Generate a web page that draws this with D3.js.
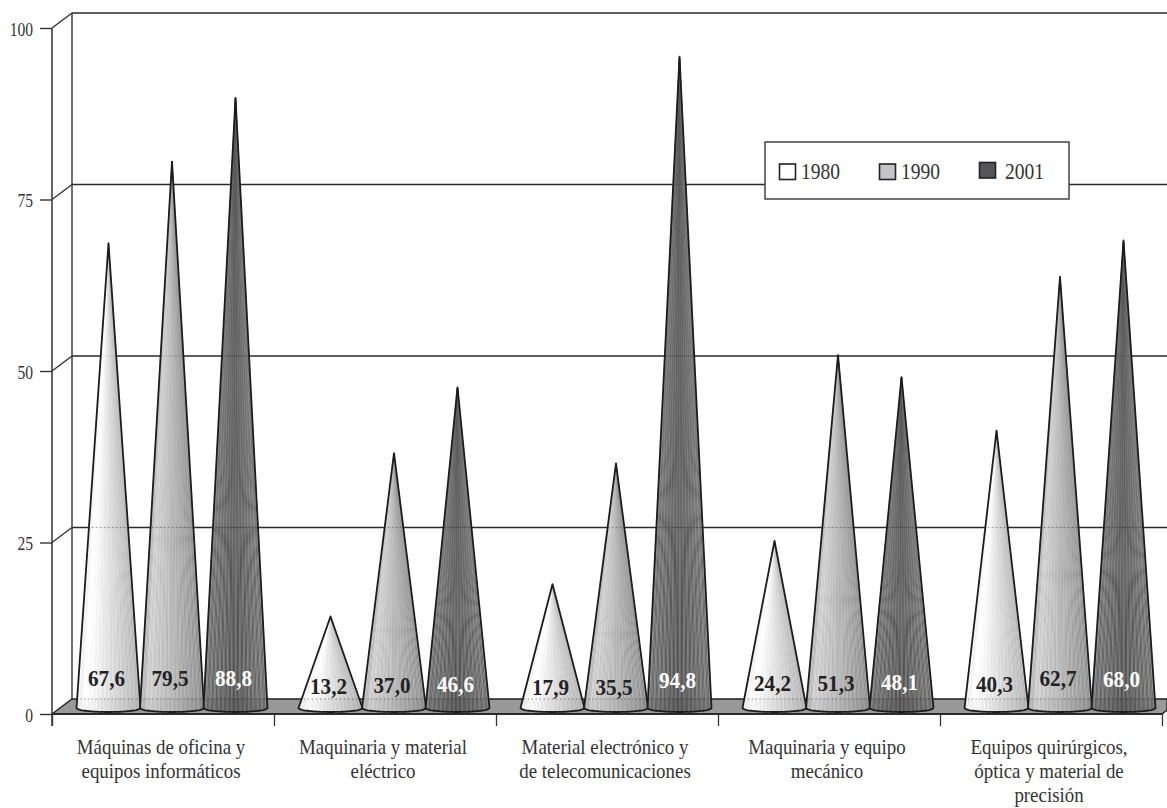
<!DOCTYPE html>
<html>
<head>
<meta charset="utf-8">
<script src="https://cdn.jsdelivr.net/npm/d3@7"></script>
<style>
  html, body { margin: 0; padding: 0; background: #fff; }
  svg { display: block; }
  text { font-family: "Liberation Serif", serif; }
</style>
</head>
<body>
<div id="chart-container"></div>
<script>
const categories = [
    "Máquinas de oficina y|equipos informáticos",
    "Maquinaria y material|eléctrico",
    "Material electrónico y|de telecomunicaciones",
    "Maquinaria y equipo|mecánico",
    "Equipos quirúrgicos,|óptica y material de|precisión"
];
const years = ["1980", "1990", "2001"];
const values1980 = [67.6, 13.2, 17.9, 24.2, 40.3];
const values1990 = [79.5, 37.0, 35.5, 51.3, 62.7];
const values2001 = [88.8, 46.6, 94.8, 48.1, 68.0];
const yTicks = [0, 25, 50, 75, 100];

// how far each printed value sits above the cone base, it varies in the original
const labelLift = [
    [22, 22, 22],
    [14, 15, 16],
    [13, 13, 20],
    [17, 17, 18],
    [16, 22, 21]
];

const svgWidth = 1167;
const svgHeight = 808;
const depthX = 20;
const depthY = 15;
const coneHalf = 32;

const svg = d3.select("#chart-container")
    .append("svg")
    .attr("width", svgWidth)
    .attr("height", svgHeight);

const scaleX = d3.scaleBand().domain(categories).range([52, 1162]);
const scaleYear = d3.scalePoint().domain(years).range([-63.5, 63.5]);
const scaleY = d3.scaleLinear().domain([0, 100]).range([714, 28]);
const edgeX = d3.scaleLinear().domain([0, categories.length]).range([52, 1162]);

const ramps = {
    "1980": d3.scaleLinear().domain([0, 0.14, 0.5, 1]).range(["#e8e8e8", "#ffffff", "#dedede", "#b4b4b4"]),
    "1990": d3.scaleLinear().domain([0, 0.12, 0.5, 1]).range(["#a8a8a8", "#cbcbcb", "#b2b2b2", "#8e8e8e"]),
    "2001": d3.scaleLinear().domain([0, 0.5, 1]).range(["#6e6e6e", "#505050", "#707070"])
};
const stripeShift = { "1980": 10, "1990": 14, "2001": 26 };

// the original type is narrower and taller than Liberation Serif
function narrowText(sel, x, y, sx) {
    return sel.attr("transform", `translate(${x},${y}) scale(${sx},1)`);
}

const frame = svg.append("g");

// back wall and grid
yTicks.forEach(function(t) {
    if (t === 0) return;
    frame.append("line")
        .attr("x1", 52).attr("x2", 52 + depthX)
        .attr("y1", scaleY(t)).attr("y2", scaleY(t) - depthY)
        .attr("stroke", "#333").attr("stroke-width", 1.4);
    frame.append("line")
        .attr("x1", 52 + depthX).attr("x2", svgWidth)
        .attr("y1", scaleY(t) - depthY).attr("y2", scaleY(t) - depthY)
        .attr("stroke", "#2a2a2a").attr("stroke-width", t === 100 ? 1.7 : 1.3);
});
frame.append("line")
    .attr("x1", 52 + depthX).attr("x2", 52 + depthX)
    .attr("y1", scaleY(100) - depthY).attr("y2", scaleY(0) - depthY)
    .attr("stroke", "#333").attr("stroke-width", 1.4);

// floor
frame.append("path")
    .attr("d", d3.line()([
        [52, scaleY(0)],
        [52 + depthX, scaleY(0) - depthY],
        [svgWidth, scaleY(0) - depthY],
        [svgWidth, scaleY(0) - 4],
        [1162, scaleY(0)]
    ]) + "Z")
    .attr("fill", "#999")
    .attr("stroke", "#222")
    .attr("stroke-width", 1.4);

// axes
const yAxis = svg.append("g")
    .attr("transform", "translate(52,0)")
    .call(d3.axisLeft(scaleY).tickValues(yTicks).tickSize(12).tickPadding(7).tickSizeOuter(0));
yAxis.select(".domain").remove();
yAxis.selectAll("line").attr("stroke", "#333").attr("stroke-width", 1.4);
yAxis.selectAll("text")
    .attr("font-size", 19)
    .attr("fill", "#333")
    .attr("x", -19 / 0.82)
    .attr("dy", "0.38em")
    .attr("transform", "scale(0.82,1)")
    .style("font-family", '"Liberation Serif", serif');

const xAxis = svg.append("g")
    .attr("transform", `translate(0,${scaleY(0)})`)
    .call(d3.axisBottom(edgeX).ticks(categories.length).tickSize(12).tickSizeOuter(0).tickFormat(""));
xAxis.select(".domain").remove();
xAxis.selectAll("line").attr("stroke", "#333").attr("stroke-width", 1.3);

svg.append("line")
    .attr("x1", 52).attr("x2", 52)
    .attr("y1", scaleY(100)).attr("y2", scaleY(0) + 12)
    .attr("stroke", "#333").attr("stroke-width", 1.5);
svg.append("line")
    .attr("x1", 52).attr("x2", 1162)
    .attr("y1", scaleY(0)).attr("y2", scaleY(0))
    .attr("stroke", "#222").attr("stroke-width", 1.4);

// cones, each one a fan of thin slices from the apex so the stripes converge
const baseY = scaleY(0) - 6;
const slices = 44;

function drawCone(cx, value, year) {
    const apexY = scaleY(value) - 7;
    const ramp = ramps[year];
    const rimY = t => baseY + 4 * Math.sqrt(Math.max(0, 1 - Math.pow(2 * t - 1, 2)));
    const g = svg.append("g").attr("class", "cone");

    d3.range(slices).forEach(function(i) {
        const t0 = i / slices;
        const t1 = (i + 1) / slices;
        const c = d3.color(ramp((t0 + t1) / 2));
        if (i % 3 === 1) {
            c.r += stripeShift[year]; c.g += stripeShift[year]; c.b += stripeShift[year];
        }
        g.append("path")
            .attr("d", d3.line()([
                [cx, apexY],
                [cx - coneHalf + 2 * coneHalf * t0, rimY(t0)],
                [cx - coneHalf + 2 * coneHalf * t1, rimY(t1)]
            ]) + "Z")
            .attr("fill", c.formatHex())
            .attr("stroke", c.formatHex())
            .attr("stroke-width", 0.3);
    });

    const outline = d3.range(0, 1.001, 1 / slices).map(t => [cx - coneHalf + 2 * coneHalf * t, rimY(t)]);
    outline.unshift([cx, apexY]);
    g.append("path")
        .attr("d", d3.line()(outline) + "Z")
        .attr("fill", "none")
        .attr("stroke", "#1c1c1c")
        .attr("stroke-width", 1.8)
        .attr("stroke-linejoin", "round");
}

const seriesValues = [values1980, values1990, values2001];
categories.forEach(function(cat, i) {
    const center = scaleX(cat) + scaleX.bandwidth() / 2 + depthX / 2 - 1;
    years.forEach(function(year, j) {
        drawCone(center + scaleYear(year), seriesValues[j][i], year);
    });
});

// lower grid lines show through the cones as dots
[0, 25].forEach(function(t) {
    svg.append("line")
        .attr("x1", 52 + depthX).attr("x2", svgWidth)
        .attr("y1", scaleY(t) - depthY).attr("y2", scaleY(t) - depthY)
        .attr("stroke", "#333")
        .attr("stroke-opacity", 0.45)
        .attr("stroke-width", 1)
        .attr("stroke-dasharray", "1,3");
});

// printed values
categories.forEach(function(cat, i) {
    const center = scaleX(cat) + scaleX.bandwidth() / 2 + depthX / 2 - 1;
    years.forEach(function(year, j) {
        const label = svg.append("text")
            .attr("text-anchor", "middle")
            .attr("font-size", 23)
            .attr("font-weight", "bold")
            .attr("fill", year === "2001" ? "#fff" : "#222")
            .text(seriesValues[j][i].toFixed(1).replace(".", ","));
        narrowText(label, center + scaleYear(year) - 2, baseY - labelLift[i][j], 0.92);
    });
});

// category labels
categories.forEach(function(cat) {
    const cx = scaleX(cat) + scaleX.bandwidth() / 2 - 2;
    cat.split("|").forEach(function(line, k) {
        const label = svg.append("text")
            .attr("text-anchor", "middle")
            .attr("font-size", 21)
            .attr("fill", "#333")
            .text(line);
        narrowText(label, cx, 754 + k * 24, 0.9);
    });
});

// legend
const legend = svg.append("g").attr("transform", "translate(765,142)");
legend.append("rect")
    .attr("width", 304)
    .attr("height", 57)
    .attr("fill", "#fff")
    .attr("stroke", "#444")
    .attr("stroke-width", 1.5);

const legendFill = ["#ffffff", "#c4c4c8", "#54545a"];
const legendX = d3.scalePoint().domain(years).range([14, 214]);
years.forEach(function(year, j) {
    legend.append("rect")
        .attr("x", legendX(year) + 0.5)
        .attr("y", j === 2 ? 20.5 : 22)
        .attr("width", 16)
        .attr("height", 15.5)
        .attr("fill", legendFill[j])
        .attr("stroke", "#222")
        .attr("stroke-width", 1.6);
    const label = legend.append("text")
        .attr("font-size", 23)
        .attr("fill", "#333")
        .text(year);
    narrowText(label, legendX(year) + (j === 2 ? 26 : 22), 37, 0.85);
});
</script>
</body>
</html>
